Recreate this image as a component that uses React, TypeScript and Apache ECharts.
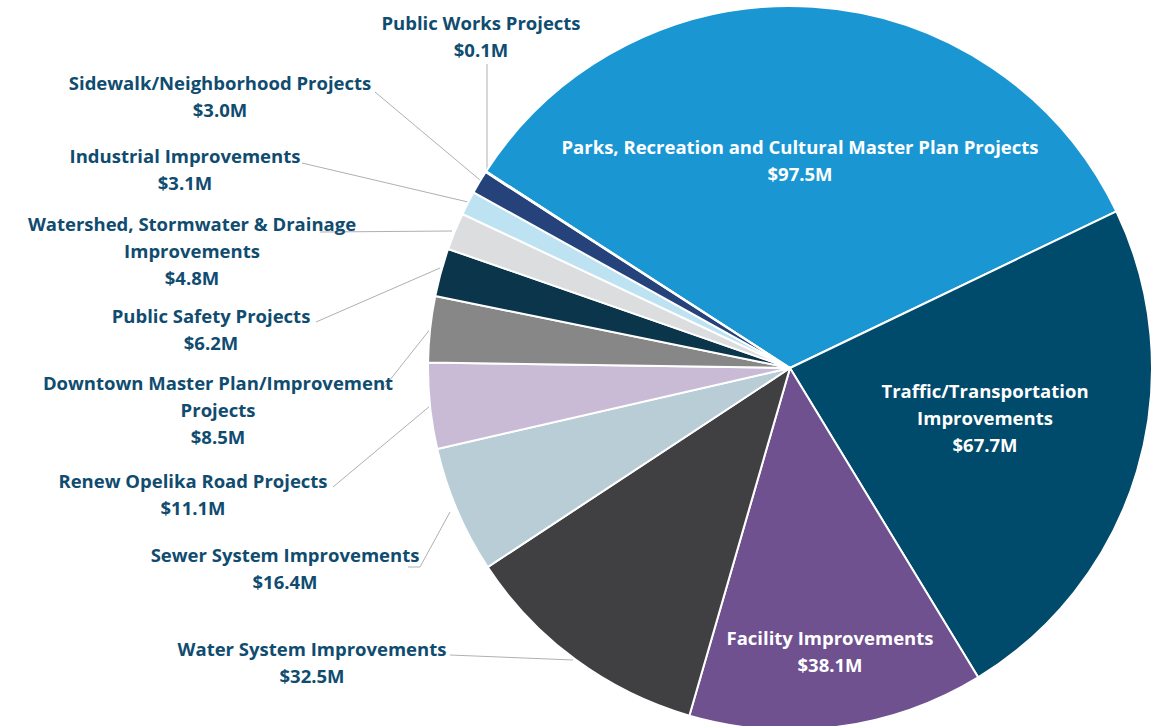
import React, { useEffect, useRef } from "react";
import * as echarts from "echarts";

const categories = [
  "Parks, Recreation and Cultural Master Plan Projects",
  "Traffic/Transportation\nImprovements",
  "Facility Improvements",
  "Water System Improvements",
  "Sewer System Improvements",
  "Renew Opelika Road Projects",
  "Downtown Master Plan/Improvement\nProjects",
  "Public Safety Projects",
  "Watershed, Stormwater & Drainage\nImprovements",
  "Industrial Improvements",
  "Sidewalk/Neighborhood Projects",
  "Public Works Projects",
];
const values = [97.5, 67.7, 38.1, 32.5, 16.4, 11.1, 8.5, 6.2, 4.8, 3.1, 3.0, 0.1];
const colors = [
  "#1A97D3", "#004A6B", "#6F5190", "#404042", "#B8CDD6", "#C9BAD6",
  "#878787", "#0B354A", "#DCDDDE", "#BDE3F3", "#25437A", "#1F3864",
];
const insideLabel = [true, true, true, false, false, false, false, false, false, false, false, false];

// label layout: [centerX, centerY of text block, line points...]
const labelPos: { x: number; y: number; line?: number[][] }[] = [
  { x: 800, y: 160 },
  { x: 985, y: 417 },
  { x: 830, y: 651 },
  { x: 312, y: 662, line: [[450, 655], [573, 660]] },
  { x: 285, y: 568, line: [[408, 567], [420, 567], [450, 512]] },
  { x: 193, y: 494, line: [[333, 487], [430, 406]] },
  { x: 218, y: 409, line: [[382, 390], [431, 328]] },
  { x: 211, y: 329, line: [[316, 322], [440, 268]] },
  { x: 192, y: 250, line: [[320, 232], [452, 231]] },
  { x: 185, y: 169, line: [[302, 163], [468, 202]] },
  { x: 220, y: 96, line: [[375, 92], [480, 180]] },
  { x: 481, y: 36, line: [[487, 64], [487, 172]] },
];

export default function App() {
  const ref = useRef<HTMLDivElement>(null);
  useEffect(() => {
    if (!ref.current) return;
    const chart = echarts.init(ref.current, undefined, { renderer: "svg" });
    const data = categories.map((name, i) => ({
      name,
      value: values[i],
      itemStyle: { color: colors[i] },
      label: {
        color: insideLabel[i] ? "#FFFFFF" : "#0F4C70",
      },
      labelLine: { show: !insideLabel[i] },
    }));
    chart.setOption({
      animation: false,
      backgroundColor: "#FFFFFF",
      series: [
        {
          type: "pie",
          center: [790, 368],
          radius: [0, 362],
          startAngle: 147.1,
          clockwise: true,
          avoidLabelOverlap: false,
          data,
          itemStyle: { borderColor: "#FFFFFF", borderWidth: 2 },
          label: {
            show: true,
            position: "outside",
            formatter: (p: any) => `${p.name}\n$${p.value.toFixed(1)}M`,
            fontFamily: "Open Sans",
            fontWeight: "bold",
            fontSize: 18.5,
            lineHeight: 27,
            align: "center",
          },
          labelLine: {
            show: true,
            lineStyle: { color: "#B0B0B0", width: 1 },
          },
          labelLayout: (params: any) => {
            const p = labelPos[params.dataIndex];
            const out: any = { x: p.x, y: p.y, align: "center", verticalAlign: "middle" };
            if (p.line) out.labelLinePoints = p.line;
            return out;
          },
        },
      ],
    });
    return () => chart.dispose();
  }, []);
  return (
    <div
      ref={ref}
      style={{ position: "fixed", left: 0, top: 0, width: 1159, height: 726 }}
    />
  );
}
